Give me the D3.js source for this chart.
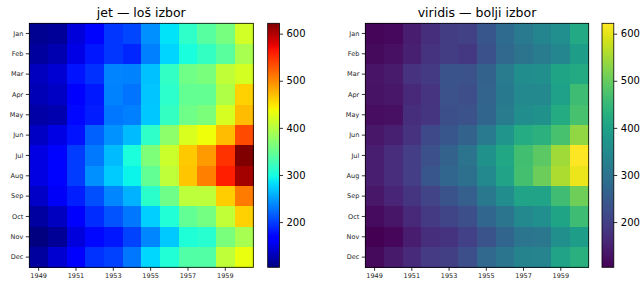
<!doctype html>
<html>
<head>
<meta charset="UTF-8">
<title>Flights heatmap</title>
<style>
  body { margin: 0; background: #fff; }
  text { font-family: "DejaVu Sans", sans-serif; }
</style>
</head>
<body>
<div id="chart"></div>
<script src="https://cdn.jsdelivr.net/npm/d3@7"></script>
<script>
var months = ["Jan", "Feb", "Mar", "Apr", "May", "Jun", "Jul", "Aug", "Sep", "Oct", "Nov", "Dec"];
var years = [1949, 1950, 1951, 1952, 1953, 1954, 1955, 1956, 1957, 1958, 1959, 1960];
var yearTicks = [1949, 1951, 1953, 1955, 1957, 1959];
var cbarTicks = [200, 300, 400, 500, 600];
// passengers per year, Jan..Dec
var passengers = [
  [112, 118, 132, 129, 121, 135, 148, 148, 136, 119, 104, 118],
  [115, 126, 141, 135, 125, 149, 170, 170, 158, 133, 114, 140],
  [145, 150, 178, 163, 172, 178, 199, 199, 184, 162, 146, 166],
  [171, 180, 193, 181, 183, 218, 230, 242, 209, 191, 172, 194],
  [196, 196, 236, 235, 229, 243, 264, 272, 237, 211, 180, 201],
  [204, 188, 235, 227, 234, 264, 302, 293, 259, 229, 203, 229],
  [242, 233, 267, 269, 270, 315, 364, 347, 312, 274, 237, 278],
  [284, 277, 317, 313, 318, 374, 413, 405, 355, 306, 271, 306],
  [315, 301, 356, 348, 355, 422, 465, 467, 404, 347, 305, 336],
  [340, 318, 362, 348, 363, 435, 491, 505, 404, 359, 310, 337],
  [360, 342, 406, 396, 420, 472, 548, 559, 463, 407, 362, 405],
  [417, 391, 419, 461, 472, 535, 622, 606, 508, 461, 390, 432]
];
var panels = [
  {title: "jet \u2014 lo\u0161 izbor", left: 29.3, right: 253.3, cbx: 267.7, cmap: "jet"},
  {title: "viridis \u2014 bolji izbor", left: 365.3, right: 588.7, cbx: 602, cmap: "viridis"}
];

var W = 644, H = 283, plotTop = 23.3, plotBottom = 267.3, cbw = 11.8;

// matplotlib jet segment data
function seg(pts) {
  return d3.scaleLinear().domain(pts.map(function(p) { return p[0]; }))
    .range(pts.map(function(p) { return p[1]; })).clamp(true);
}
var jr = seg([[0, 0], [0.35, 0], [0.66, 1], [0.89, 1], [1, 0.5]]);
var jg = seg([[0, 0], [0.125, 0], [0.375, 1], [0.64, 1], [0.91, 0], [1, 0]]);
var jb = seg([[0, 0.5], [0.11, 1], [0.34, 1], [0.65, 0], [1, 0]]);
function jet(t) {
  return d3.rgb(jr(t) * 255, jg(t) * 255, jb(t) * 255).formatHex();
}
var cmaps = {jet: jet, viridis: d3.interpolateViridis};

var all = d3.merge(passengers);
var vmin = d3.min(all), vmax = d3.max(all);
var norm = d3.scaleLinear().domain([vmin, vmax]).range([0, 1]).clamp(true);

var svg = d3.select("#chart").append("svg")
  .attr("width", W).attr("height", H);

var defs = svg.append("defs");

panels.forEach(function(p, pi) {
  var cm = cmaps[p.cmap];
  var x = d3.scaleBand().domain(years).range([p.left, p.right]);
  var y = d3.scaleBand().domain(months).range([plotTop, plotBottom]);
  var g = svg.append("g");

  years.forEach(function(yr, i) {
    g.selectAll(null).data(passengers[i]).enter().append("rect")
      .attr("x", x(yr))
      .attr("y", function(d, j) { return y(months[j]); })
      .attr("width", x.bandwidth() + 0.5)
      .attr("height", y.bandwidth() + 0.5)
      .attr("shape-rendering", "crispEdges")
      .attr("fill", function(d) { return cm(norm(d)); });
  });

  g.append("rect").attr("x", p.left).attr("y", plotTop)
    .attr("width", p.right - p.left).attr("height", plotBottom - plotTop)
    .attr("fill", "none").attr("stroke", "#000").attr("stroke-width", 0.8);

  var xa = g.append("g").attr("transform", "translate(0," + plotBottom + ")")
    .call(d3.axisBottom(x).tickValues(yearTicks).tickSize(3.5).tickPadding(2.5));
  var ya = g.append("g").attr("transform", "translate(" + p.left + ",0)")
    .call(d3.axisLeft(y).tickSize(3.5).tickPadding(2.5));
  [xa, ya].forEach(function(a) {
    a.select(".domain").remove();
    a.selectAll("line").attr("stroke", "#000").attr("stroke-width", 0.8);
    a.selectAll("text").attr("font-size", 6.5).attr("fill", "#222");
  });

  g.append("text").attr("x", (p.left + p.right) / 2).attr("y", 17)
    .attr("text-anchor", "middle").attr("font-size", 12.5).attr("fill", "#000")
    .text(p.title);

  // colorbar
  var gid = "grad" + pi;
  var grad = defs.append("linearGradient").attr("id", gid)
    .attr("x1", 0).attr("y1", 1).attr("x2", 0).attr("y2", 0);
  d3.range(0, 1.0001, 1 / 64).forEach(function(t) {
    grad.append("stop").attr("offset", t).attr("stop-color", cm(t));
  });
  var cy = d3.scaleLinear().domain([vmin, vmax]).range([plotBottom, plotTop]);
  g.append("rect").attr("x", p.cbx).attr("y", plotTop)
    .attr("width", cbw).attr("height", plotBottom - plotTop)
    .attr("fill", "url(#" + gid + ")")
    .attr("stroke", "#000").attr("stroke-width", 0.8);
  var ca = g.append("g").attr("transform", "translate(" + (p.cbx + cbw) + ",0)")
    .call(d3.axisRight(cy).tickValues(cbarTicks).tickSize(3.5).tickPadding(3.5));
  ca.select(".domain").remove();
  ca.selectAll("line").attr("stroke", "#000").attr("stroke-width", 0.8);
  ca.selectAll("text").attr("font-size", 10).attr("fill", "#000");
});
</script>
</body>
</html>
